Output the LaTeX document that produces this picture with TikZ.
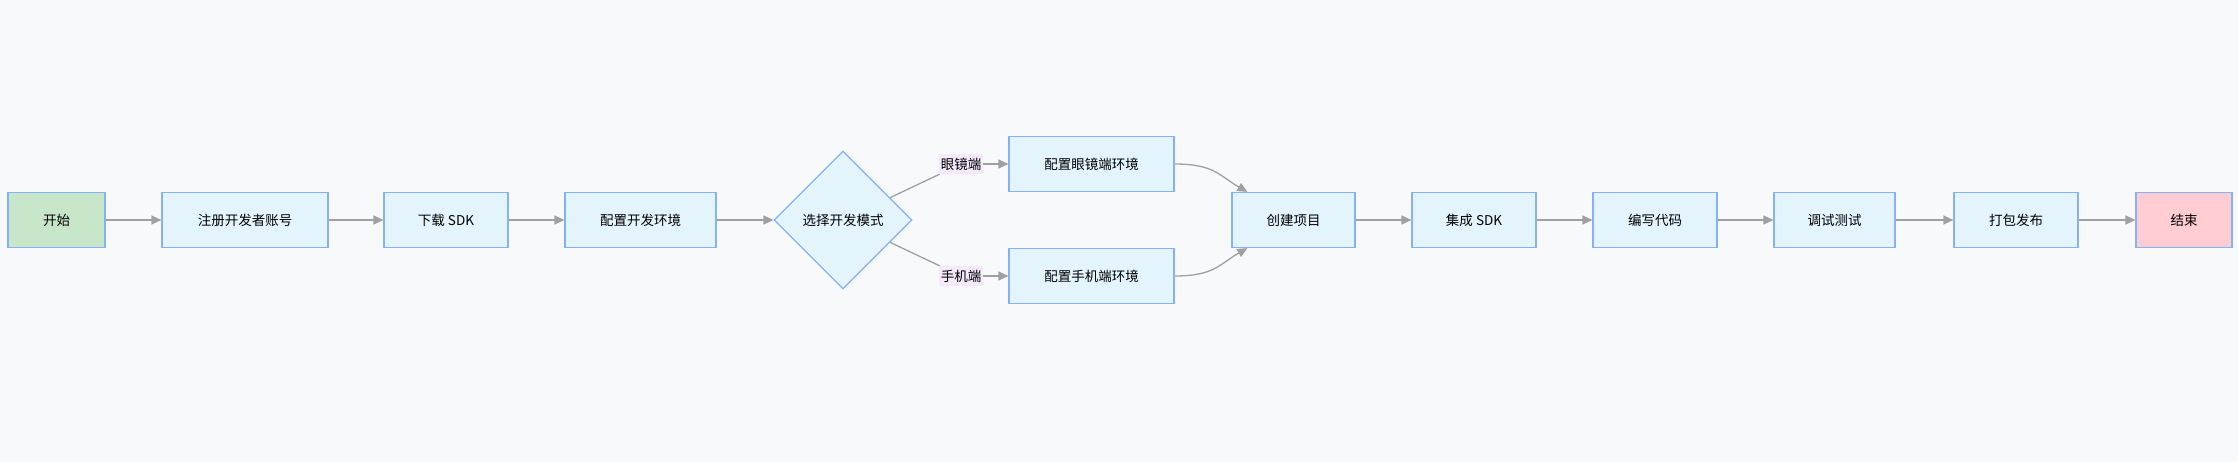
\documentclass[tikz,border=0pt]{standalone}
\usepackage{fontspec}
\setmainfont{Noto Sans CJK SC}
\usetikzlibrary{shapes.geometric,arrows.meta,calc}
\definecolor{bgc}{HTML}{F8F9FB}
\definecolor{boxfill}{HTML}{E3F4FD}
\definecolor{boxdraw}{HTML}{85B1F7}
\definecolor{startfill}{HTML}{C8E6C9}
\definecolor{endfill}{HTML}{FFCDD2}
\definecolor{edgec}{HTML}{A0A0A0}
\definecolor{lblfill}{HTML}{F5EAFB}
\begin{document}
\begin{tikzpicture}[x=1pt,y=-1pt,
  every node/.style={font=\fontsize{13.5}{16}\selectfont, text=black},
  box/.style={draw=boxdraw, line width=1.2pt, fill=boxfill, minimum height=55pt, inner sep=0pt},
  startbox/.style={box, fill=startfill},
  endbox/.style={box, fill=endfill},
  decision/.style={diamond, aspect=1, draw=boxdraw, line width=1.2pt, fill=boxfill, minimum width=138pt, minimum height=138pt, inner sep=0pt},
  lbl/.style={fill=lblfill, inner sep=1.5pt, minimum height=20pt},
  conn/.style={draw=edgec, line width=1.3pt},
  flow/.style={conn, -{Triangle[length=10pt,width=9pt]}}]
\fill[bgc] (0,0) rectangle (2238,462);
\useasboundingbox (0,0) rectangle (2238,462);

\node[startbox, minimum width=97pt] (s) at (56.5,220) {开始};
\node[box, minimum width=166pt] (n1) at (245,220) {注册开发者账号};
\node[box, minimum width=124pt] (n2) at (446,220) {下载 SDK};
\node[box, minimum width=151pt] (n3) at (640.5,220) {配置开发环境};
\node[decision] (d) at (843,220) {选择开发模式};
\node[lbl] (l1) at (961,164) {眼镜端};
\node[lbl] (l2) at (961,276) {手机端};
\node[box, minimum width=165pt] (g1) at (1091.5,164) {配置眼镜端环境};
\node[box, minimum width=165pt] (g2) at (1091.5,276) {配置手机端环境};
\node[box, minimum width=123pt] (c) at (1293.5,220) {创建项目};
\node[box, minimum width=124pt] (i) at (1474,220) {集成 SDK};
\node[box, minimum width=124pt] (w) at (1655,220) {编写代码};
\node[box, minimum width=121pt] (t) at (1834.5,220) {调试测试};
\node[box, minimum width=124pt] (p) at (2016,220) {打包发布};
\node[endbox, minimum width=96pt] (e) at (2184,220) {结束};

\draw[flow] (s) -- (n1);
\draw[flow] (n1) -- (n2);
\draw[flow] (n2) -- (n3);
\draw[flow] (n3) -- (d);
\draw[conn] (d) -- (l1);
\draw[conn] (d) -- (l2);
\draw[flow] (l1) -- (g1);
\draw[flow] (l2) -- (g2);
\draw[flow] (g1.east) .. controls +(40,0) and +(-28,-16) .. ($(c.north west)+(16,0)$);
\draw[flow] (g2.east) .. controls +(40,0) and +(-28,16) .. ($(c.south west)+(16,0)$);
\draw[flow] (c) -- (i);
\draw[flow] (i) -- (w);
\draw[flow] (w) -- (t);
\draw[flow] (t) -- (p);
\draw[flow] (p) -- (e);
\end{tikzpicture}
\end{document}
